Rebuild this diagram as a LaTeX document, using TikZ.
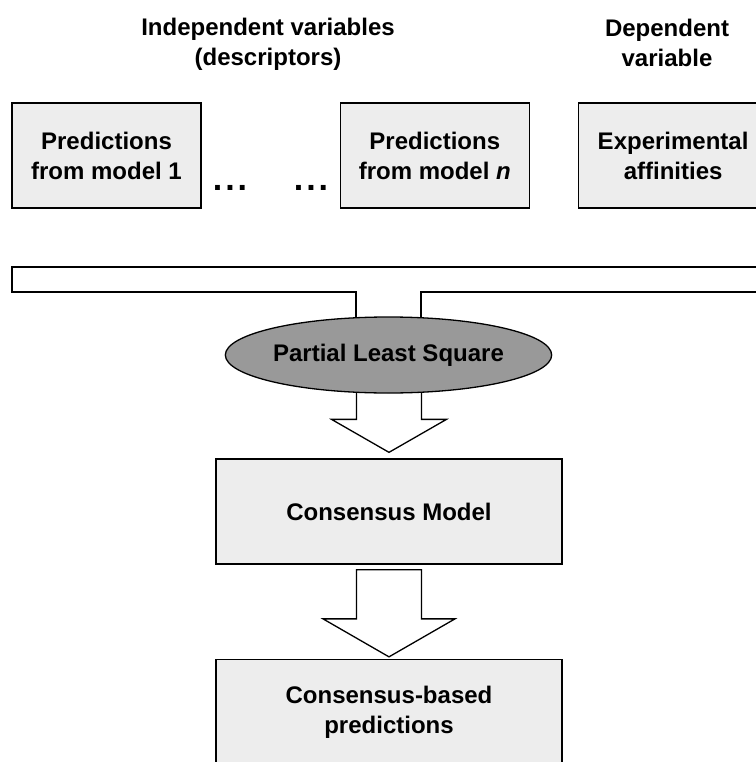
\documentclass[tikz,border=0pt]{standalone}
\usepackage{fontspec}
\setmainfont{Liberation Sans}
\usetikzlibrary{positioning,shapes.geometric,calc,backgrounds}
\definecolor{boxfill}{gray}{0.93}
\definecolor{plsfill}{gray}{0.6}
\tikzstyle{box}=[draw,fill=boxfill,inner sep=0pt,align=center,minimum width=189pt,minimum height=105pt]
\tikzstyle{widebox}=[box,minimum width=346pt]
\tikzstyle{blockarrow}=[draw,fill=white,line width=1.3pt,line join=miter]
\tikzstyle{heading}=[align=center,inner sep=0pt]
\tikzstyle{dots}=[anchor=base,inner sep=0pt,font=\bfseries\fontsize{34}{34}\selectfont]
\newcommand{\newBox}[4]{\node[box,#3](#1)[#4]{#2};}
% start, tip, half stem width, half head width, head length
\newcommand{\newArrow}[5]{\path[blockarrow] let \p1=(#1), \p2=(#2) in
  (\x2-#3,\y1) -- (\x2-#3,\y2+#5) -- (\x2-#4,\y2+#5) -- (\x2,\y2)
  -- (\x2+#4,\y2+#5) -- (\x2+#3,\y2+#5) -- (\x2+#3,\y1) -- cycle;}

\begin{document}
\begin{tikzpicture}[x=1pt,y=-1pt,node distance=138pt and 138pt,
      line width=1.3pt,
      font=\bfseries\fontsize{24}{30}\selectfont
      ]
      \useasboundingbox (0,0) rectangle (755,762);
      \node[heading] (indep) at (268,44) {Independent variables\\(descriptors)};
      \node[heading] (dep) at (667,43) {Dependent\\variable};
      \newBox{m1}{Predictions\\from model 1}{}{at={(106.5,155.5)}}
      \newBox{mn}{Predictions\\from model \textit{n}}{}{right=of m1}
      \newBox{exp}{Experimental\\affinities}{}{right=48pt of mn}
      \node[dots] (dots1) at (230,190.5) {.\kern3pt.\kern3pt.};
      \node[dots] (dots2) at (311,190.5) {.\kern3pt.\kern3pt.};
      % \node[dots] (dots3) at (270,190.5) {.\kern3pt.\kern3pt.};
      \node[ellipse,draw,fill=plsfill,inner sep=0pt,minimum width=303pt,
            minimum height=76pt] (pls) at (388.5,355) {Partial Least Square};
      \node[box,widebox] (cm) at (389,511.5) {Consensus Model};
      \node[box,widebox] (cbp) at (389,712) {Consensus-based\\predictions};
      \coordinate (bar nw) at (12,267);
      \coordinate (bar se) at (775,292);
      \begin{scope}[on background layer]
        \path[blockarrow] let \p1=(bar nw), \p2=(bar se), \p3=(pls.center) in
          (\p1) -- (\x2,\y1) -- (\p2) -- (\x3+32.5pt,\y2) -- (\x3+32.5pt,\y3)
          -- (\x3-32.5pt,\y3) -- (\x3-32.5pt,\y2) -- (\x1,\y2) -- cycle;
        \newArrow{pls.center}{$(cm.north)+(0,-6)$}{32.5pt}{57.5pt}{33pt}
      \end{scope}
      \newArrow{$(cm.south)+(0,5)$}{$(cbp.north)+(0,-2)$}{32.5pt}{66pt}{38pt}
    \end{tikzpicture}
\end{document}
